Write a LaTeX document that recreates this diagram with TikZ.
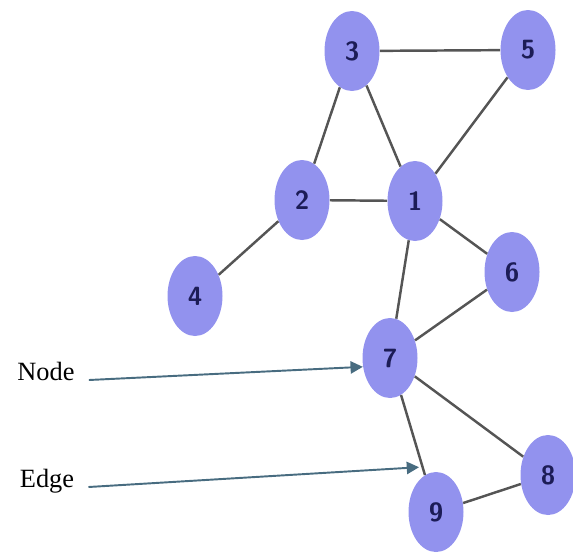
\documentclass[tikz,border=0pt]{standalone}
\usepackage{fontspec}
\setmainfont{Liberation Serif}
\usetikzlibrary{shapes,arrows.meta}
\definecolor{nodeblue}{RGB}{146,146,238}
\definecolor{numblue}{RGB}{28,28,86}
\definecolor{edgegray}{RGB}{85,85,85}
\definecolor{arrowblue}{RGB}{72,108,128}

\begin{document}
\begin{tikzpicture}[x=0.02cm,y=-0.02cm]
\tikzstyle{vertex}=[ellipse, minimum width=1.1cm, minimum height=1.6cm, inner sep=0pt, fill=nodeblue, text=numblue, font=\sffamily\bfseries\fontsize{15}{15}\selectfont]
\tikzstyle{tag}=[inner xsep=8pt, font=\fontsize{15}{18}\selectfont]
\tikzstyle{connect}=[draw=edgegray, line width=1.4pt]
\tikzstyle{pointto}=[-{Triangle[length=7pt,width=7pt]}, draw=arrowblue, line width=1.1pt]
\useasboundingbox (0,0) rectangle (573,558);

\node[vertex] (v_3) at (352,51) {3};
\node[vertex] (v_5) at (528,50) {5};
\node[vertex] (v_2) at (302,200) {2};
\node[vertex] (v_1) at (415,201) {1};
\node[vertex] (v_4) at (195,296) {4};
\node[vertex] (v_6) at (512,272) {6};
\node[vertex] (v_7) at (390,358) {7};
\node[vertex] (v_8) at (548,475) {8};
\node[vertex] (v_9) at (436,512) {9};

\node[tag, anchor=base] (l_node) at (46,380) {Node};
\node[tag, anchor=base] (l_edge) at (47,487) {Edge};

\path[connect]
	(v_3) edge (v_5)
	(v_3) edge (v_2)
	(v_3) edge (v_1)
	(v_5) edge (v_1)
	(v_2) edge (v_1)
	(v_2) edge (v_4)
	(v_1) edge (v_6)
	(v_1) edge (v_7)
	(v_6) edge (v_7)
	(v_7) edge (v_8)
	(v_7) edge node[coordinate, pos=0.9] (e_79) {} (v_9)
	(v_9) edge (v_8);

\draw[pointto] (l_node.base east) -- (v_7.198);
\draw[pointto, shorten >=2pt] (l_edge.base east) -- (e_79);
\end{tikzpicture}
\end{document}
